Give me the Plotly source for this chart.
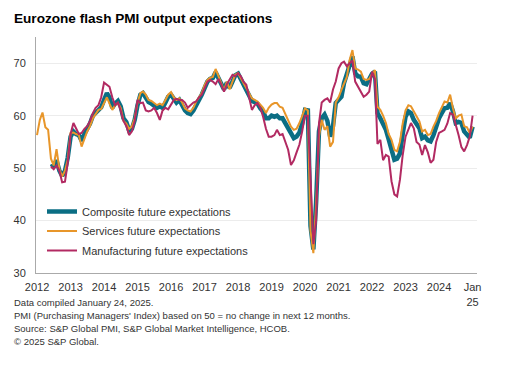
import plotly.graph_objects as go
import pandas as pd

services_start = "2012-01-01"
services = [
    56.3, 59.2, 60.6, 57.8, 57.3, 51.8, 50.5, 53.6, 49.8, 48.4, 49.5, 51.6,
    56.7, 56.8, 56.5, 56.3, 54.1, 55.5, 57.0, 58.0, 59.5, 60.3, 61.1, 61.3,
    62.5, 63.5, 62.3, 61.1, 62.0, 62.4, 61.5, 59.0, 58.5, 57.5, 58.0, 59.5,
    62.5, 64.3, 64.6, 64.0, 63.0, 62.8, 62.4, 62.0, 62.3, 62.0, 63.0, 64.0,
    64.5, 63.5, 63.0, 63.3, 62.5, 61.4, 61.0, 60.8, 61.5, 62.7, 63.5, 64.3,
    65.8, 66.8, 67.2, 67.4, 68.9, 67.5, 66.5, 64.8, 66.5, 65.0, 66.5, 67.8,
    68.1, 67.1, 66.0, 65.0, 64.0, 63.3, 63.0, 62.7, 62.1, 61.5, 60.5, 61.5,
    62.1, 62.4, 62.4, 61.7, 61.5, 60.2, 59.0, 57.9, 57.3, 57.5, 58.6, 60.0,
    61.4, 61.0, 38.0, 33.8, 43.0, 56.0, 59.2, 57.3, 58.0, 54.1, 55.0, 62.5,
    63.5, 64.9, 66.0, 67.4, 70.6, 72.5, 69.0, 68.8, 68.4, 67.0, 66.8, 67.0,
    68.0, 68.7, 61.7, 61.1, 60.0, 58.6, 56.5, 55.4, 53.5, 53.2, 55.0, 58.5,
    61.0, 62.0, 61.8, 60.8, 60.0, 58.9, 57.0, 57.3, 56.3, 56.5, 57.9, 59.0,
    60.5, 61.5, 62.7, 62.5, 64.0, 61.4, 59.5, 60.0, 60.2, 58.0, 57.8, 56.7,
    57.9,
]

composite_start = "2012-06-01"
composite = [
    50.2, 50.5, 51.5, 49.5, 48.5, 49.5, 52.0,
    56.0, 57.0, 56.5, 56.3, 55.2, 56.5, 57.5, 58.5, 60.0, 60.6, 61.3, 61.6,
    63.0, 64.3, 63.5, 61.5, 62.3, 62.8, 61.8, 59.5, 58.8, 57.2, 57.5, 59.2,
    62.0, 64.0, 64.3, 63.6, 62.6, 62.3, 62.0, 61.5, 61.8, 61.5, 62.5, 63.6,
    64.0, 63.0, 62.5, 63.0, 62.0, 61.0, 60.5, 60.3, 61.0, 62.2, 63.0, 64.0,
    65.5, 66.5, 67.0, 67.2, 68.3, 67.2, 66.3, 65.0, 66.3, 65.3, 66.5, 67.7,
    68.0, 67.0, 66.0, 65.0, 63.8, 62.8, 62.6, 62.3, 61.4, 60.8, 59.5, 59.5,
    60.0, 59.8, 60.0, 59.5, 59.5, 58.5, 57.9, 56.5, 55.7, 56.0, 56.8, 58.5,
    61.1, 61.0, 39.0, 34.5, 43.5, 57.0, 59.5, 60.2, 59.0, 56.0, 58.0, 62.4,
    63.0, 63.6, 66.2, 67.8, 69.4, 71.3, 68.1, 67.5, 67.4, 66.2, 66.0, 66.8,
    68.0, 68.4, 60.5, 59.5, 58.5, 57.3, 55.5, 53.5, 51.6, 51.8, 52.8, 56.5,
    59.8, 60.8, 60.5, 59.2, 58.5, 57.6, 55.7, 56.0, 55.3, 55.1, 56.3, 58.0,
    59.5, 60.5, 61.4, 61.5, 62.4, 60.8, 58.6, 58.8, 58.6, 57.0, 56.5, 55.8,
    57.9,
]

manufacturing_start = "2012-06-01"
manufacturing = [
    50.3, 49.8, 50.5, 49.5, 47.3, 47.4, 51.0,
    56.5, 58.6, 57.5, 56.5, 56.7, 57.5, 58.0, 59.0, 60.5, 61.5, 62.0, 63.5,
    66.3, 65.8, 65.5, 63.5, 62.0, 62.5, 61.0, 59.0, 58.0, 56.3, 57.0, 59.0,
    63.0, 62.4, 62.5, 61.0, 60.8, 61.0, 61.5, 60.5, 59.2, 61.0, 61.5, 61.2,
    62.0, 63.0, 63.2, 63.0, 63.0, 62.5, 61.5, 62.0, 62.5, 62.7, 63.5, 64.0,
    65.2, 66.5, 66.8, 66.5, 66.0, 67.0, 66.0, 64.6, 66.0, 67.0, 67.8, 67.5,
    68.1, 67.5, 66.5, 65.9, 63.6, 61.1, 62.0, 62.4, 61.5, 59.8, 57.5, 56.0,
    56.0, 56.3, 57.3, 56.3, 56.5, 55.0, 53.5, 50.6, 51.5, 53.0, 54.5, 57.0,
    60.0, 60.0, 47.0, 35.5, 40.0, 58.5, 62.5, 63.0, 63.3, 62.5, 65.0, 66.5,
    69.0, 70.0, 70.3, 69.4, 70.0, 70.5, 66.5, 65.5, 64.6, 63.6, 64.0, 64.6,
    68.4, 67.0, 54.6, 55.4, 51.5, 52.5, 52.2, 47.5, 45.0, 44.6, 47.8, 52.5,
    56.0, 57.5, 58.6, 57.6, 55.0, 54.5, 52.5, 54.4, 53.0, 51.0, 51.6, 55.0,
    56.7, 57.0, 57.3, 58.5, 60.5, 60.2, 58.5, 56.3, 54.0, 53.2, 54.4, 56.0,
    60.0,
]

tick_vals = [f"{y}-01-01" for y in range(2012, 2026)]
tick_text = [str(y) for y in range(2012, 2025)] + ["Jan<br>25"]

names = ["Composite future expectations", "Services future expectations",
         "Manufacturing future expectations"]
colors = ["#0b6e84", "#e8962a", "#b22a62"]
widths = [4.5, 2, 2]

FONT = "Arial, Liberation Sans, sans-serif"

# the page body adds an 8px offset; figure is sized to fit the window
W, H = 506, 358
L, T = 28, 29
R, B = 37, 93
PW, PH = W - L - R, H - T - B


def px_x(x):  # page pixel -> paper
    return (x - 8 - L) / PW


def px_y(y):
    return (H - B - (y - 8)) / PH


fig = go.Figure()
for i, (name, start, vals, col, w) in enumerate([
    (names[0], composite_start, composite, colors[0], widths[0]),
    (names[1], services_start, services, colors[1], widths[1]),
    (names[2], manufacturing_start, manufacturing, colors[2], widths[2]),
]):
    dates = pd.date_range(start, periods=len(vals), freq="MS")
    fig.add_trace(go.Scatter(x=dates, y=vals, mode="lines", name=name,
                             legendgroup=f"g{i}",
                             line=dict(color=col, width=w)))

fig.update_layout(
    width=W, height=H,
    margin=dict(l=L, r=R, t=T, b=B, autoexpand=False),
    paper_bgcolor="white", plot_bgcolor="white",
    font=dict(family=FONT, size=11, color="#333333"),
    showlegend=True,
    legend=dict(x=px_x(42), y=px_y(197), xanchor="left", yanchor="top",
                bgcolor="rgba(0,0,0,0)", font=dict(size=11, color="#333333"),
                tracegroupgap=0.5, itemwidth=30),
    xaxis=dict(range=["2011-12-21", "2025-02-18"], tickvals=tick_vals,
               ticktext=tick_text, showgrid=False, showline=True,
               linecolor="#aaaaaa", linewidth=1, ticks="", zeroline=False,
               ticklabelstandoff=4,
               tickfont=dict(size=11, color="#333333")),
    yaxis=dict(range=[30, 75], tickvals=[30, 40, 50, 60, 70], showgrid=True,
               gridcolor="#ececec", gridwidth=1, showline=True,
               linecolor="#aaaaaa", linewidth=1, ticks="", zeroline=False,
               ticklabelstandoff=7, tickfont=dict(size=11, color="#333333")),
)

fig.add_annotation(text="<b>Eurozone flash PMI output expectations</b>",
                   xref="paper", yref="paper", x=px_x(12),
                   y=px_y(18), xanchor="left", yanchor="middle",
                   showarrow=False, font=dict(size=13.6, color="#000000"))

notes = [
    "Data compiled January 24, 2025.",
    "PMI (Purchasing Managers' Index) based on 50 = no change in next 12 months.",
    "Source: S&P Global PMI, S&P Global Market Intelligence, HCOB.",
    "© 2025 S&P Global.",
]
for i, t in enumerate(notes):
    ypx = 302.5 + i * 13
    fig.add_annotation(text=t, xref="paper", yref="paper", x=px_x(12),
                       y=px_y(ypx), xanchor="left", yanchor="middle",
                       showarrow=False, font=dict(size=9.5, color="#333333"))

fig.write_html("out.html")
